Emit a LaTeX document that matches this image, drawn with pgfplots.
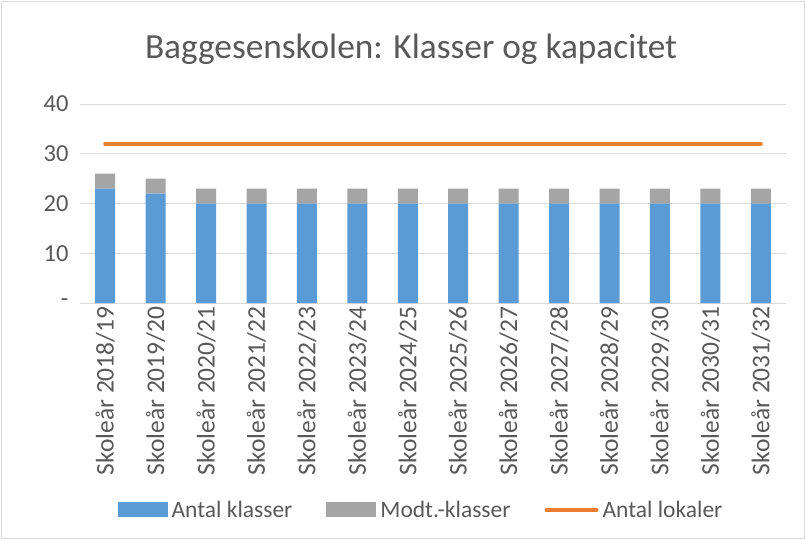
\documentclass[border=0pt]{standalone}
\usepackage{pgfplots}
\pgfplotsset{compat=1.18}
\usepackage{fontspec}
\setmainfont{Carlito}
\definecolor{cblue}{HTML}{5B9BD5}
\definecolor{cgray}{HTML}{A5A5A5}
\definecolor{corange}{HTML}{ED7D31}
\definecolor{ctext}{HTML}{595959}
\definecolor{cgrid}{HTML}{D9D9D9}
\begin{document}
\begin{tikzpicture}
\path[use as bounding box] (-80bp,-237bp) rectangle (726bp,303bp);
\draw[cgrid, line width=1bp] (-78bp,-235bp) rectangle (724bp,301bp);
\begin{axis}[
  at={(0,0)}, anchor=south west,
  scale only axis, width=706bp, height=199bp,
  ybar stacked, bar width=20bp,
  xmin=-0.5, xmax=13.5, ymin=0, ymax=40,
  xtick={0,...,13},
  xticklabels={Skoleår 2018/19,Skoleår 2019/20,Skoleår 2020/21,Skoleår 2021/22,Skoleår 2022/23,Skoleår 2023/24,Skoleår 2024/25,Skoleår 2025/26,Skoleår 2026/27,Skoleår 2027/28,Skoleår 2028/29,Skoleår 2029/30,Skoleår 2030/31,Skoleår 2031/32},
  x tick label style={rotate=90, anchor=east, font=\fontsize{25.5bp}{27bp}\selectfont, text=ctext, yshift=0bp},
  ytick={0,10,20,30,40},
  yticklabels={-,10,20,30,40},
  y tick label style={font=\fontsize{24.5bp}{26bp}\selectfont, text=ctext, xshift=-8bp},
  /pgf/number format/assume math mode=true,
  major tick length=0pt,
  ymajorgrids, grid style={cgrid, line width=1bp},
  axis x line*=bottom, axis y line*=left,
  x axis line style={cgrid, line width=1bp, -},
  y axis line style={draw=none},
  title={Baggesenskolen: Klasser og kapacitet},
  title style={font=\fontsize{35.3bp}{38bp}\selectfont, text=ctext, at={(0.5,1)}, anchor=base, yshift=40bp, xshift=-22bp},
  legend columns=3,
  legend style={draw=none, fill=none, at={(0.483,-1.04)}, anchor=center,
    font=\fontsize{23.5bp}{25bp}\selectfont, text=ctext,
    /tikz/every even column/.append style={column sep=32bp},
    /tikz/every odd column/.append style={column sep=2bp}},
  legend cell align=left,
]
\addplot[fill=cblue, draw=none, area legend,
  legend image code/.code={\fill[cblue] (-2bp,-7.5bp) rectangle (48bp,7.5bp);}]
  coordinates {(0,23) (1,22) (2,20) (3,20) (4,20) (5,20) (6,20) (7,20) (8,20) (9,20) (10,20) (11,20) (12,20) (13,20)};
\addlegendentry{Antal klasser}
\addplot[fill=cgray, draw=none, area legend,
  legend image code/.code={\fill[cgray] (-2bp,-7.5bp) rectangle (48bp,7.5bp);}]
  coordinates {(0,3) (1,3) (2,3) (3,3) (4,3) (5,3) (6,3) (7,3) (8,3) (9,3) (10,3) (11,3) (12,3) (13,3)};
\addlegendentry{Modt.-klasser}
\addlegendimage{legend image code/.code={\draw[corange, line width=4bp, line cap=round] (0bp,0bp) -- (50bp,0bp);}}
\addlegendentry{Antal lokaler}
\end{axis}
\begin{axis}[
  at={(0,0)}, anchor=south west,
  scale only axis, width=706bp, height=199bp,
  xmin=-0.5, xmax=13.5, ymin=0, ymax=40,
  hide axis,
]
\addplot[corange, line width=4bp, line cap=round, mark=none]
  coordinates {(0,32) (1,32) (2,32) (3,32) (4,32) (5,32) (6,32) (7,32) (8,32) (9,32) (10,32) (11,32) (12,32) (13,32)};
\end{axis}
\end{tikzpicture}
\end{document}
